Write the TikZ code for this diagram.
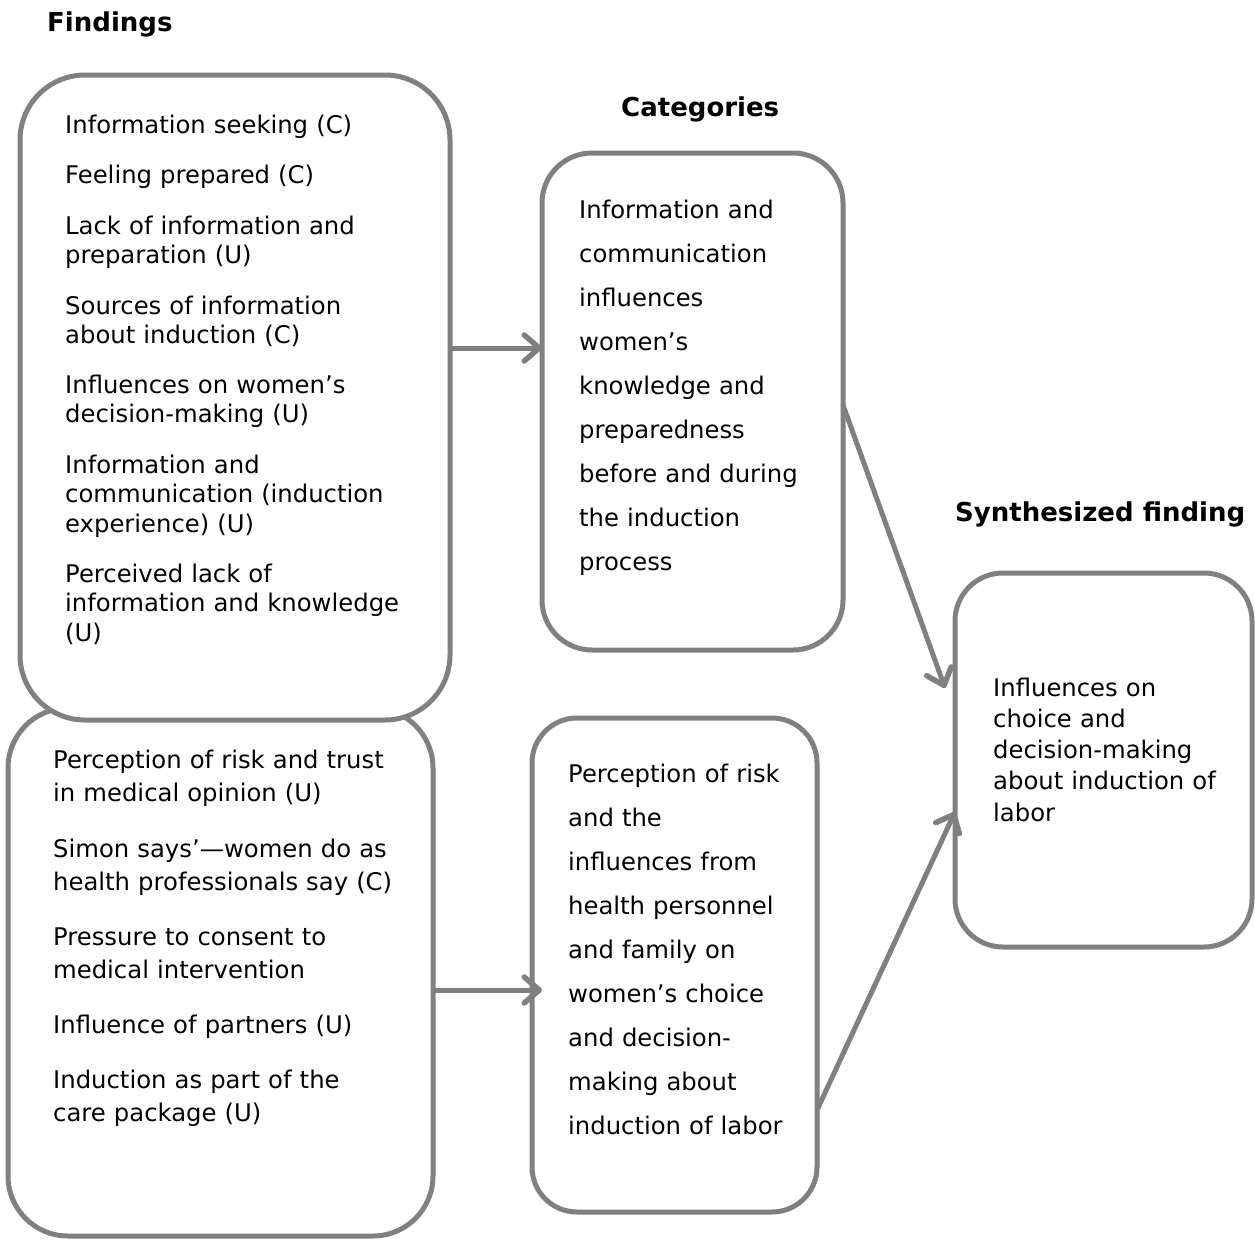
\documentclass[tikz,border=0pt]{standalone}
\usepackage{fontspec}
\setmainfont{DejaVu Sans}
\usetikzlibrary{arrows.meta,calc}
\definecolor{linegray}{RGB}{128,128,128}
\begin{document}
\begin{tikzpicture}[x=1pt,y=-1pt,
  box/.style={draw=linegray,line width=5pt,fill=white,rectangle,inner sep=0pt,outer sep=0pt},
  arr/.style={draw=linegray,line width=5pt,-{Straight Barb[length=15pt,width=26pt,line width'=5.5pt,round]}},
  title/.style={anchor=base west,inner sep=0pt,font=\fontsize{26}{30}\selectfont\bfseries},
  txt/.style={anchor=base west,inner sep=0pt,align=left,text width=#1},
  ftxt/.style={txt=390pt,font=\fontsize{24.3}{29.5}\selectfont},
  btxt/.style={txt=380pt,font=\fontsize{24.3}{33}\selectfont},
  ctxt/.style={txt=260pt,font=\fontsize{24.3}{44}\selectfont},
  stxt/.style={txt=250pt,font=\fontsize{24.3}{31.25}\selectfont}]
\useasboundingbox (0,0) rectangle (1255,1239);

% titles
\node[title] (tFind) at (47,32) {Findings};
\node[title] (tCat) at (621,116) {Categories};
\node[title] (tSyn) at (955,521) {Synthesized finding};

% boxes (bottom-left first so top-left overlaps it)
\node[box,rounded corners=60pt,minimum width=425pt,minimum height=528pt] (bl) at (220.5,972) {};
\node[box,rounded corners=65pt,minimum width=430pt,minimum height=645pt] (tl) at (235,397.5) {};
\node[box,rounded corners=50pt,minimum width=301pt,minimum height=497pt] (c1) at (692.5,401.5) {};
\node[box,rounded corners=45pt,minimum width=285pt,minimum height=494pt] (c2) at (674.5,965) {};
\node[box,rounded corners=48pt,minimum width=297pt,minimum height=374pt] (syn) at (1103.5,760) {};

% findings (top)
\node[ftxt] (f1) at (65,133) {Information seeking (C)};
\node[ftxt] (f2) at (65,183) {Feeling prepared (C)};
\node[ftxt] (f3) at (65,234) {Lack of information and\\preparation (U)};
\node[ftxt] (f4) at (65,314) {Sources of information\\about induction (C)};
\node[ftxt] (f5) at (65,393) {Influences on women’s\\decision-making (U)};
\node[ftxt] (f6) at (65,473) {Information and\\communication (induction\\experience) (U)};
\node[ftxt] (f7) at (65,582) {Perceived lack of\\information and knowledge\\(U)};

% findings (bottom)
\node[btxt] (g1) at (53,768) {Perception of risk and trust\\in medical opinion (U)};
\node[btxt] (g2) at (53,857) {Simon says’—women do as\\health professionals say (C)};
\node[btxt] (g3) at (53,945) {Pressure to consent to\\medical intervention};
\node[btxt] (g4) at (53,1033) {Influence of partners (U)};
\node[btxt] (g5) at (53,1088) {Induction as part of the\\care package (U)};

% categories
\node[ctxt] (k1) at (579,218) {Information and\\communication\\influences\\women’s\\knowledge and\\preparedness\\before and during\\the induction\\process};
\node[ctxt] (k2) at (568,782) {Perception of risk\\and the\\influences from\\health personnel\\and family on\\women’s choice\\and decision-\\making about\\induction of labor};

% synthesized
\node[stxt] (s1) at (993,696) {Influences on\\choice and\\decision-making\\about induction of\\labor};

% connectors
\coordinate (a1s) at (tl.east |- 0,348);
\coordinate (a1e) at (c1.west |- 0,348);
\coordinate (a2s) at (bl.east |- 0,990);
\coordinate (a2e) at ($(c2.west |- 0,990)+(10,0)$);
\coordinate (a3s) at (c1.east |- 0,405);
\coordinate (a3e) at ($(syn.west |- 0,688)+(-10,0)$);
\coordinate (a4s) at (c2.east |- 0,1110);
\coordinate (a4e) at (syn.west |- 0,812);
\draw[arr] (a1s) -- (a1e);
\draw[arr] (a2s) -- (a2e);
\draw[arr] (a3s) -- (a3e);
\draw[arr] (a4s) -- (a4e);
\end{tikzpicture}
\end{document}
